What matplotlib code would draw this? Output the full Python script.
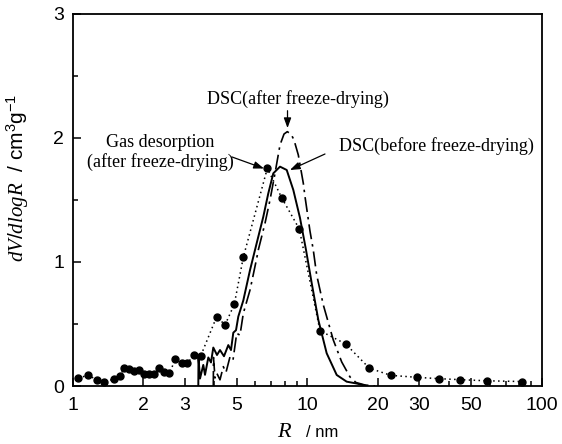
import numpy as np
import matplotlib
matplotlib.use("Agg")
import matplotlib.pyplot as plt
from matplotlib.ticker import FixedLocator, NullFormatter, MultipleLocator

plt.rcParams['font.family'] = ['Liberation Sans', 'DejaVu Sans']
plt.rcParams['mathtext.fontset'] = 'custom'
plt.rcParams['mathtext.it'] = 'Liberation Serif:italic'
plt.rcParams['mathtext.rm'] = 'Liberation Sans'

# gas desorption (after freeze-drying), dots joined by a dotted line
gas_r = [1.059, 1.168, 1.268, 1.366, 1.507, 1.593, 1.663, 1.746, 1.834, 1.920,
         2.017, 2.124, 2.224, 2.336, 2.460, 2.585, 2.742, 2.919, 3.083, 3.293,
         3.516, 4.115, 4.464, 4.89, 5.34, 6.76, 7.78, 9.25, 11.33, 14.58,
         18.38, 22.68, 29.26, 36.52, 44.87, 58.3, 82.2]
gas_v = [0.062, 0.089, 0.048, 0.035, 0.056, 0.081, 0.148, 0.135, 0.121, 0.129,
         0.094, 0.094, 0.097, 0.143, 0.115, 0.102, 0.215, 0.188, 0.183, 0.250,
         0.242, 0.560, 0.492, 0.659, 1.038, 1.756, 1.519, 1.266, 0.446, 0.339,
         0.144, 0.086, 0.070, 0.059, 0.051, 0.042, 0.036]

# DSC before freeze-drying (solid)
before_r = [3.435, 3.441, 3.493, 3.607, 3.668, 3.789, 3.890, 3.979, 4.126, 4.249,
            4.419, 4.610, 4.733, 4.842, 4.972, 5.085, 5.341, 5.704, 5.990, 6.187,
            6.498, 6.825, 7.168, 7.655, 8.176, 8.722, 9.314, 9.879, 10.45, 11.15,
            12.10, 13.35, 14.72, 16.24, 17.62]
before_v = [0.0, 0.23, 0.06, 0.17, 0.09, 0.23, 0.19, 0.31, 0.25, 0.29,
            0.24, 0.33, 0.29, 0.43, 0.45, 0.56, 0.69, 0.935, 1.097, 1.204,
            1.365, 1.554, 1.715, 1.769, 1.742, 1.581, 1.355, 1.097, 0.828, 0.532,
            0.264, 0.089, 0.035, 0.02, 0.004]

# DSC after freeze-drying (dash-dot)
after_r = [3.979, 3.987, 4.046, 4.114, 4.249, 4.389, 4.507, 4.688, 4.828, 5.006,
           5.170, 5.341, 5.704, 6.091, 6.187, 6.607, 6.939, 7.288, 7.655, 7.962,
           8.222, 8.527, 8.782, 9.161, 9.621, 9.782, 10.27, 10.61, 10.97, 11.71,
           12.91, 14.02, 15.21, 16.13, 17.62, 19.44]
after_v = [0.0, 0.23, 0.065, 0.105, 0.05, 0.156, 0.11, 0.236, 0.21, 0.425,
           0.41, 0.586, 0.774, 1.03, 1.097, 1.312, 1.5, 1.715, 1.944, 2.032,
           2.051, 2.032, 1.984, 1.863, 1.635, 1.527, 1.25, 1.097, 0.895, 0.653,
           0.371, 0.194, 0.073, 0.028, 0.008, 0.0]

xticks = [1, 2, 3, 5, 10, 20, 30, 50, 100]
yticks = [0, 1, 2, 3]

fig = plt.figure(figsize=(5.62, 4.44), dpi=100)
ax = fig.add_axes([72.5 / 562, 1 - 386 / 444, 469.5 / 562, 372 / 444])

ax.plot(gas_r, gas_v, color='black', linestyle=(0, (1, 2.2)), lw=1.1,
        marker='o', markersize=5, markerfacecolor='black', markeredgecolor='black')
ax.plot(before_r, before_v, color='black', lw=1.4, linestyle='-')
ax.plot(after_r, after_v, color='black', lw=1.2, linestyle=(0, (9, 3, 1.5, 3)))

ax.set_xscale('log')
ax.set_xlim(1, 100)
ax.set_ylim(0, 3)

ax.xaxis.set_major_locator(FixedLocator(xticks))
ax.set_xticklabels([str(t) for t in xticks])
minors = [m * 10 ** e for e in (0, 1) for m in range(2, 10)]
ax.xaxis.set_minor_locator(FixedLocator([m for m in minors if m not in xticks]))
ax.xaxis.set_minor_formatter(NullFormatter())
ax.yaxis.set_major_locator(FixedLocator(yticks))
ax.yaxis.set_minor_locator(MultipleLocator(0.5))

ax.tick_params(which='both', direction='in', top=False, right=False, width=1.1)
ax.tick_params(which='major', length=6, labelsize=14)
ax.tick_params(axis='x', which='major', pad=8)
ax.tick_params(axis='y', which='major', pad=6)
ax.tick_params(which='minor', length=3.5)
for s in ax.spines.values():
    s.set_linewidth(1.3)

# axis titles
fig.text(283.5 / 562, 12 / 444, 'R', ha='center', va='center', fontsize=16,
         family=['Liberation Serif', 'DejaVu Serif'], style='italic')
fig.text(322 / 562, 12 / 444, '/ nm', ha='center', va='center', fontsize=12)
ax.set_ylabel(r'$\mathit{dV/dlogR}$  / cm$^3$g$^{-1}$', fontsize=15)
ax.yaxis.set_label_coords(-0.088, 0.56)

serif = {'family': ['Liberation Serif', 'DejaVu Serif'], 'fontsize': 13}
arrow = dict(arrowstyle='-|>,head_length=0.6,head_width=0.22', color='black', lw=0.9,
             shrinkA=0, shrinkB=0)

ax.text(9.09, 2.315, 'DSC(after freeze-drying)', ha='center', va='center', **serif)
ax.annotate('', xy=(8.24, 2.08), xytext=(8.24, 2.22), arrowprops=arrow)

ax.text(2.36, 1.887, 'Gas desorption\n(after freeze-drying)', ha='center', va='center',
        linespacing=1.15, **serif)
ax.annotate('', xy=(6.54, 1.754), xytext=(4.78, 1.847), arrowprops=arrow)

ax.text(35.5, 1.935, 'DSC(before freeze-drying)', ha='center', va='center', **serif)
ax.annotate('', xy=(8.44, 1.742), xytext=(11.9, 1.871), arrowprops=arrow)

fig.savefig('out.png', dpi=100)
